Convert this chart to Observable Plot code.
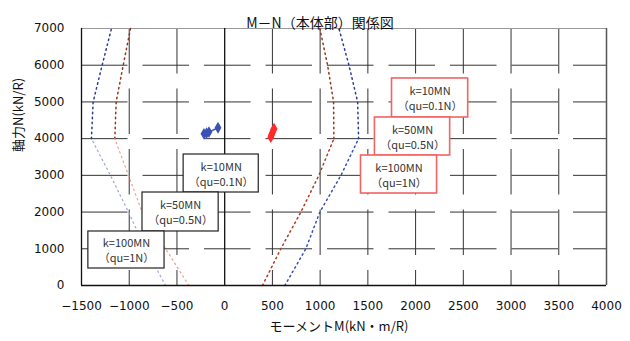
<!DOCTYPE html>
<html><head><meta charset="utf-8">
<script src="https://cdn.jsdelivr.net/npm/d3@7"></script>
<script src="https://cdn.jsdelivr.net/npm/@observablehq/plot@0.6"></script>
<style>body{margin:0;background:#fff}#chart svg{display:block}</style>
</head><body><div id="chart"></div>
<script>
// Axial force levels (kN/R)
const nLevels = [0, 1000, 2000, 3000, 4000, 5000, 6000, 7000];
// Interaction curves, moment M (kN·m/R) at each level
const blueLeft  = [-619, -829, -1008, -1197, -1396, -1378, -1284, -1186];
const blueRight = [630, 850, 997, 1218, 1403, 1393, 1302, 1197];
const redLeft   = [-375, -619, -864, -1008, -1151, -1137, -1063, -987];
const redRight  = [396, 588, 798, 987, 1144, 1141, 1078, 997];
// Load points
const blueM = [-217, -190, -165, -70];
const blueN = [4130, 4150, 4178, 4298];
const redM = [483, 490, 500, 508, 517];
const redN = [4040, 4100, 4160, 4220, 4270];
// Ticks
const xTicks = [-1500, -1000, -500, 0, 500, 1000, 1500, 2000, 2500, 3000, 3500, 4000];
const yTicks = [0, 1000, 2000, 3000, 4000, 5000, 6000, 7000];
// Labels
const title = "M－N（本体部）関係図";
const xLabel = "モーメントM(kN・m/R)";
const yLabel = "軸力N(kN/R)";
// Annotation boxes (data units)
const noteLine1 = ["k=10MN", "k=50MN", "k=100MN", "k=10MN", "k=50MN", "k=100MN"];
const noteLine2 = ["（qu=0.1N）", "（qu=0.5N）", "（qu=1N）", "（qu=0.1N）", "（qu=0.5N）", "（qu=1N）"];
const noteX1 = [-430, -861, -1428, 1753, 1574, 1428];
const noteX2 = [357, -63, -630, 2551, 2362, 2225];
const noteY1 = [2533, 1471, 463, 4576, 3541, 2506];
const noteY2 = [3568, 2533, 1471, 5639, 4576, 3541];
const noteKind = ["k", "k", "k", "r", "r", "r"];

function seg(vals, part) {
  return nLevels.map((n, i) => ({M: vals[i], N: n})).filter(d => part === "lower" ? d.N <= 4000 : d.N >= 4000);
}
const notes = noteLine1.map((l, i) => ({l1: l, l2: noteLine2[i], x1: noteX1[i], x2: noteX2[i], y1: noteY1[i], y2: noteY2[i], kind: noteKind[i]}));
const bluePts = blueM.map((m, i) => ({M: m, N: blueN[i]}));
const redPts = redM.map((m, i) => ({M: m, N: redN[i]}));

const dash = "1.5,3.5";
const gridX = xTicks.filter(v => v !== -1500 && v !== 0 && v !== 4000);
const gridY = yTicks.filter(v => v !== 0 && v !== 7000);
const fmt = d => d < 0 ? "\u2212" + Math.abs(d) : String(d);

const chart = Plot.plot({
  width: 630, height: 341,
  marginLeft: 81, marginRight: 24, marginTop: 28, marginBottom: 56,
  x: {domain: [-1500, 4000]},
  y: {domain: [0, 7000]},
  style: {fontFamily: "DejaVu Sans", fontSize: "12px", color: "#000", background: "#fff"},
  marks: [
    Plot.ruleY(gridY, {x1: -1500, x2: 4000, stroke: "#333", strokeWidth: 1, strokeDasharray: "46.5,15"}),
    Plot.ruleX(gridX, {y1: 7000, y2: 0, stroke: "#333", strokeWidth: 1, strokeDasharray: "45.5,15"}),
    Plot.ruleY([7000], {stroke: "#999", strokeWidth: 1}),
    Plot.ruleX([4000], {stroke: "#555", strokeWidth: 1.5}),
    Plot.ruleX([0], {stroke: "#111", strokeWidth: 1.3}),
    // curves
    Plot.line(seg(blueLeft, "upper"), {x: "M", y: "N", stroke: "#2a3a96", strokeWidth: 1.5, strokeDasharray: dash}),
    Plot.line(seg(blueLeft, "lower"), {x: "M", y: "N", stroke: "#9aa4dc", strokeWidth: 1.2, strokeDasharray: dash}),
    Plot.line(seg(redLeft, "upper"), {x: "M", y: "N", stroke: "#9a3418", strokeWidth: 1.5, strokeDasharray: dash}),
    Plot.line(seg(redLeft, "lower"), {x: "M", y: "N", stroke: "#eaa08c", strokeWidth: 1.2, strokeDasharray: dash}),
    Plot.line(seg(blueRight, "upper"), {x: "M", y: "N", stroke: "#2a3a96", strokeWidth: 1.5, strokeDasharray: dash}),
    Plot.line(seg(blueRight, "lower"), {x: "M", y: "N", stroke: "#3550b8", strokeWidth: 1.5, strokeDasharray: dash}),
    Plot.line(seg(redRight, "upper"), {x: "M", y: "N", stroke: "#9a3418", strokeWidth: 1.5, strokeDasharray: dash}),
    Plot.line(seg(redRight, "lower"), {x: "M", y: "N", stroke: "#b03a20", strokeWidth: 1.5, strokeDasharray: dash}),
    // load points
    Plot.line(bluePts, {x: "M", y: "N", stroke: "#3a52b4", strokeWidth: 1.5}),
    Plot.dot(bluePts, {x: "M", y: "N", symbol: "diamond", r: 3.6, fill: "#3a52b4", stroke: "none"}),
    Plot.line(redPts, {x: "M", y: "N", stroke: "#ff2a2a", strokeWidth: 1.5}),
    Plot.dot(redPts, {x: "M", y: "N", symbol: "diamond", r: 3.6, fill: "#ff2a2a", stroke: "none"}),
    // annotation boxes
    Plot.rect(notes, {x1: "x1", x2: "x2", y1: "y1", y2: "y2", fill: "white",
      stroke: d => d.kind === "r" ? "#f06464" : "#222", strokeWidth: d => d.kind === "r" ? 1.6 : 1.2}),
    Plot.text(notes, {x: d => (d.x1 + d.x2) / 2, y: d => (d.y1 + d.y2) / 2, text: d => d.l1 + "\n" + d.l2,
      lineHeight: 1.36, fontSize: 11, fill: "#333", fontFamily: "Noto Sans CJK JP"}),
    // frame left/bottom
    Plot.ruleX([-1500], {stroke: "#111", strokeWidth: 1.3}),
    Plot.ruleY([0], {stroke: "#111", strokeWidth: 1.5}),
    // axes
    Plot.axisX(xTicks, {tickSize: 0, tickPadding: 16, label: null, fontSize: 12, fill: "#111", tickFormat: fmt}),
    Plot.axisY(yTicks, {tickSize: 0, tickPadding: 17, label: null, fontSize: 12, fill: "#111", tickFormat: fmt}),
    // titles
    Plot.text([title], {text: d => d, frameAnchor: "top", dx: -24, dy: -10, fontSize: 14, fontFamily: "Noto Sans CJK JP", fill: "#111"}),
    Plot.text([xLabel], {text: d => d, frameAnchor: "bottom", dx: -5, dy: 45, fontSize: 13, fontFamily: "Noto Sans CJK JP", fill: "#111"}),
    Plot.text([yLabel], {text: d => d, frameAnchor: "left", dx: -63, dy: -5, rotate: -90, fontSize: 13, fontFamily: "Noto Sans CJK JP", fill: "#111"})
  ]
});
document.getElementById("chart").appendChild(chart);
</script>
</body></html>
